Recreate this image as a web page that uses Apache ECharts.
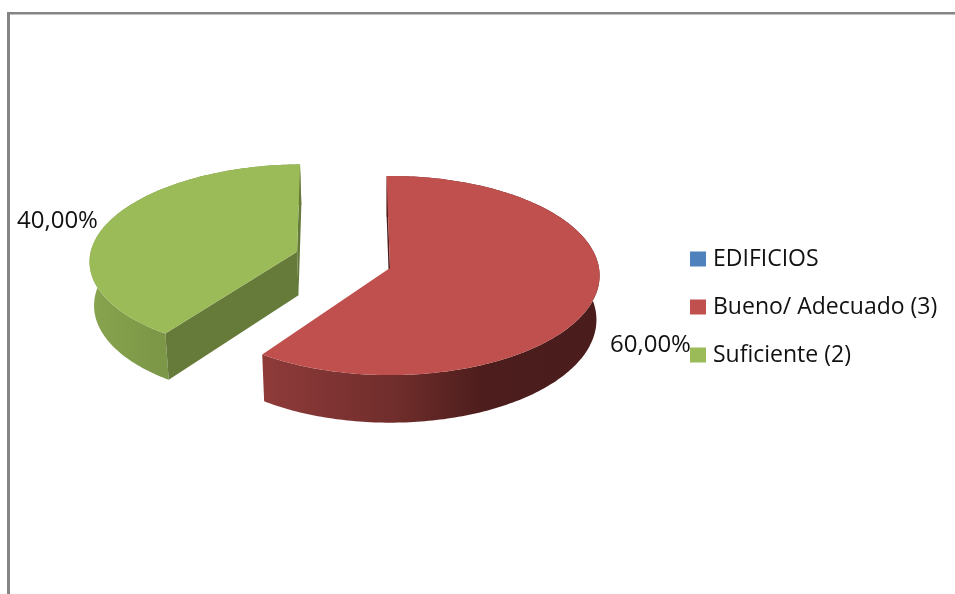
<!DOCTYPE html>
<html>
<head>
<meta charset="utf-8">
<style>html,body{margin:0;padding:0;background:#fff}#chart{width:955px;height:594px}</style>
<script src="https://cdn.jsdelivr.net/npm/echarts@6/dist/echarts.min.js"></script>
</head>
<body>
<div id="chart"></div>
<script>
// Condition of buildings, share per rating
var categories = ['EDIFICIOS', 'Bueno/ Adecuado (3)', 'Suficiente (2)'];
var values = [0, 60, 40];
var explodeOffset = [[0, 0], [0, 0], [-0.45, -0.165]];
var flatten = [1, 1, 0.972];
var topColors = ['#4F81BD', '#C0504D', '#9BBB59'];
var cutColors = ['#2F4D71', '#4A1C1C', '#667A3A'];
var wallStops = [
  [[0, '#4F81BD'], [1, '#2F4D71']],
  [[0, '#8F3B3A'], [0.4, '#6F2D2B'], [0.66, '#4C1D1C'], [1, '#4A1C1C']],
  [[0, '#88A44E'], [0.35, '#7B9747'], [1, '#7B9747']]
];
var labelBoxes = [null, [610, 345], [17, 221]];

// Tilted pie projection: screen centre, radii, perspective and rim depth
var pie = { cx: 390, cy: 268, rx: 209, ry: 99, k: 0.0755, depth: 44, shrink: 0.985, startDeg: -1 };
var total = values.reduce(function (a, b) { return a + b; }, 0);

function project(u, v, lower) {
  var w = 1 - pie.k * v;
  return [
    pie.cx + (pie.rx * u / w) * (lower ? pie.shrink : 1),
    pie.cy + pie.ry * v / w + (lower ? pie.depth / w : 0)
  ];
}

function percentText(v) {
  return (v / total * 100).toFixed(2).replace('.', ',') + '%';
}

function shoelace(p) {
  var s = 0;
  for (var i = 0; i < p.length; i++) {
    var a = p[i], b = p[(i + 1) % p.length];
    s += a[0] * b[1] - b[0] * a[1];
  }
  return s;
}

function sliceItem(index) {
  return function () {
    var value = values[index];
    if (!value) return { type: 'group', children: [] };
    var before = values.slice(0, index).reduce(function (a, b) { return a + b; }, 0);
    var a0 = pie.startDeg + before / total * 360;
    var a1 = a0 + value / total * 360;
    var ox = explodeOffset[index][0], oy = explodeOffset[index][1];

    var topRim = [], lowRim = [];
    for (var a = a0; a <= a1 + 1e-6; a += 1) {
      var t = a * Math.PI / 180;
      var u = ox + Math.sin(t), v = oy - flatten[index] * Math.cos(t);
      topRim.push(project(u, v, false));
      lowRim.push(project(u, v, true));
    }
    var apex = project(ox, oy, false), apexLow = project(ox, oy, true);
    var n = topRim.length - 1;
    var children = [];

    // outer wall, then any cut faces that turn toward the viewer, then the top
    children.push({
      type: 'polygon',
      shape: { points: topRim.concat(lowRim.slice().reverse()) },
      style: { fill: new echarts.graphic.LinearGradient(0, 0, 1, 0, wallStops[index].map(function (s) {
        return { offset: s[0], color: s[1] };
      })) }
    });
    [[apex, topRim[0], lowRim[0], apexLow], [topRim[n], apex, apexLow, lowRim[n]]].forEach(function (quad) {
      if (shoelace(quad) < 0) {
        children.push({ type: 'polygon', shape: { points: quad }, style: { fill: cutColors[index] } });
      }
    });
    children.push({
      type: 'polygon',
      shape: { points: [apex].concat(topRim) },
      style: { fill: topColors[index] }
    });
    children.push({
      type: 'text',
      x: labelBoxes[index][0],
      y: labelBoxes[index][1],
      style: {
        text: percentText(value),
        fill: '#111',
        font: '24px "Open Sans"',
        verticalAlign: 'middle',
        align: 'left'
      }
    });
    return { type: 'group', children: children };
  };
}

var chart = echarts.init(document.getElementById('chart'));
chart.setOption({
  animation: false,
  backgroundColor: '#fff',
  color: topColors,
  legend: {
    orient: 'vertical',
    left: 690,
    top: 246,
    padding: 0,
    itemWidth: 16,
    itemHeight: 15,
    itemGap: 22,
    selectedMode: false,
    icon: 'rect',
    data: categories,
    textStyle: { fontFamily: 'Open Sans', fontSize: 23, color: '#111', padding: [0, 0, 0, 2], lineHeight: 26 }
  },
  graphic: [
    { type: 'rect', shape: { x: 7, y: 12, width: 3, height: 582 }, style: { fill: '#858585' } },
    { type: 'rect', shape: { x: 7, y: 12, width: 948, height: 2.5 }, style: { fill: '#858585' } }
  ],
  series: categories.map(function (name, i) {
    return {
      type: 'custom',
      name: name,
      coordinateSystem: 'none',
      renderItem: sliceItem(i),
      data: [values[i]],
      silent: true
    };
  })
});
</script>
</body>
</html>
